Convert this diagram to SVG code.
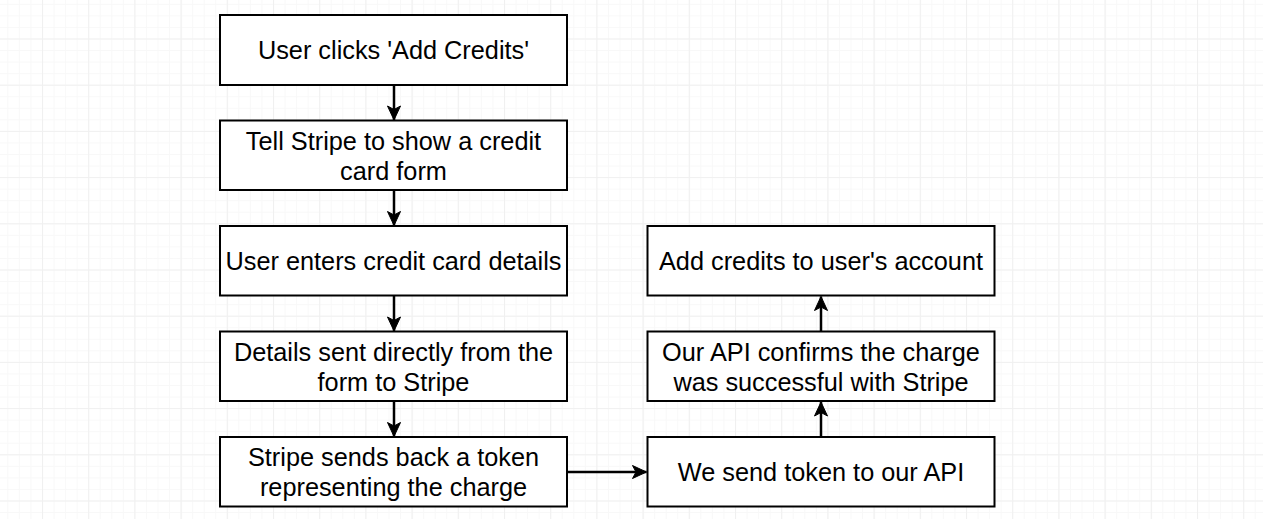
<svg xmlns="http://www.w3.org/2000/svg" width="1263" height="519" viewBox="0 0 1263 519">
  <defs>
    <pattern id="minor" patternUnits="userSpaceOnUse" x="42" y="38.5" width="11.55" height="11.55">
      <path d="M0,0.5 H11.55 M0.5,0 V11.55" fill="none" stroke="#f8f8f8" stroke-width="1"/>
    </pattern>
    <pattern id="major" patternUnits="userSpaceOnUse" x="42" y="38.5" width="46.2" height="46.2">
      <path d="M0,0.5 H46.2 M0.5,0 V46.2" fill="none" stroke="#f0f0f0" stroke-width="1.2"/>
    </pattern>
    <marker id="arrow" markerUnits="userSpaceOnUse" markerWidth="16" markerHeight="16" refX="15" refY="8" orient="auto" viewBox="0 0 16 16">
      <path d="M15,8 L1,1.5 L4.5,8 L1,14.5 Z" fill="#000" stroke="#000" stroke-width="1"/>
    </marker>
    <style>
      .box { fill: #fff; stroke: #000; stroke-width: 2; }
      .lbl { font-family: "Liberation Sans", Arial, Helvetica, sans-serif; font-size: 25.3px; fill: #000; text-anchor: middle; }
      .edge { fill: none; stroke: #000; stroke-width: 2.5; marker-end: url(#arrow); }
    </style>
  </defs>
  <rect x="0" y="0" width="1263" height="519" fill="#fff"/>
  <rect x="0" y="0" width="1263" height="519" fill="url(#minor)"/>
  <rect x="0" y="0" width="1263" height="519" fill="url(#major)"/>

  <g id="connectors">
    <path class="edge" d="M394,85 V120"/>
    <path class="edge" d="M394,190 V225.5"/>
    <path class="edge" d="M394,295.5 V331"/>
    <path class="edge" d="M394,401 V436.5"/>
    <path class="edge" d="M567,472 H646.5"/>
    <path class="edge" d="M821,436.5 V402"/>
    <path class="edge" d="M821,331.5 V296.5"/>
  </g>

  <g id="n1">
    <rect class="box" x="220" y="15" width="347" height="70"/>
    <text class="lbl" x="393.5" y="59">User clicks 'Add Credits'</text>
  </g>
  <g id="n2">
    <rect class="box" x="220" y="120.5" width="347" height="69.5"/>
    <text class="lbl" x="393.5" y="149.5">Tell Stripe to show a credit</text>
    <text class="lbl" x="393.5" y="179.5">card form</text>
  </g>
  <g id="n3">
    <rect class="box" x="220" y="226" width="347" height="69.5"/>
    <text class="lbl" x="393.5" y="270">User enters credit card details</text>
  </g>
  <g id="n4">
    <rect class="box" x="220" y="331.5" width="347" height="69.5"/>
    <text class="lbl" x="393.5" y="361">Details sent directly from the</text>
    <text class="lbl" x="393.5" y="391">form to Stripe</text>
  </g>
  <g id="n5">
    <rect class="box" x="220" y="437" width="347" height="69.5"/>
    <text class="lbl" x="393.5" y="466">Stripe sends back a token</text>
    <text class="lbl" x="393.5" y="496">representing the charge</text>
  </g>
  <g id="n6">
    <rect class="box" x="647.5" y="437" width="347" height="69.5"/>
    <text class="lbl" x="821" y="481">We send token to our API</text>
  </g>
  <g id="n7">
    <rect class="box" x="647.5" y="331.5" width="347" height="69.5"/>
    <text class="lbl" x="821" y="361">Our API confirms the charge</text>
    <text class="lbl" x="821" y="391">was successful with Stripe</text>
  </g>
  <g id="n8">
    <rect class="box" x="647.5" y="226" width="347" height="69.5"/>
    <text class="lbl" x="821" y="270">Add credits to user's account</text>
  </g>
</svg>
